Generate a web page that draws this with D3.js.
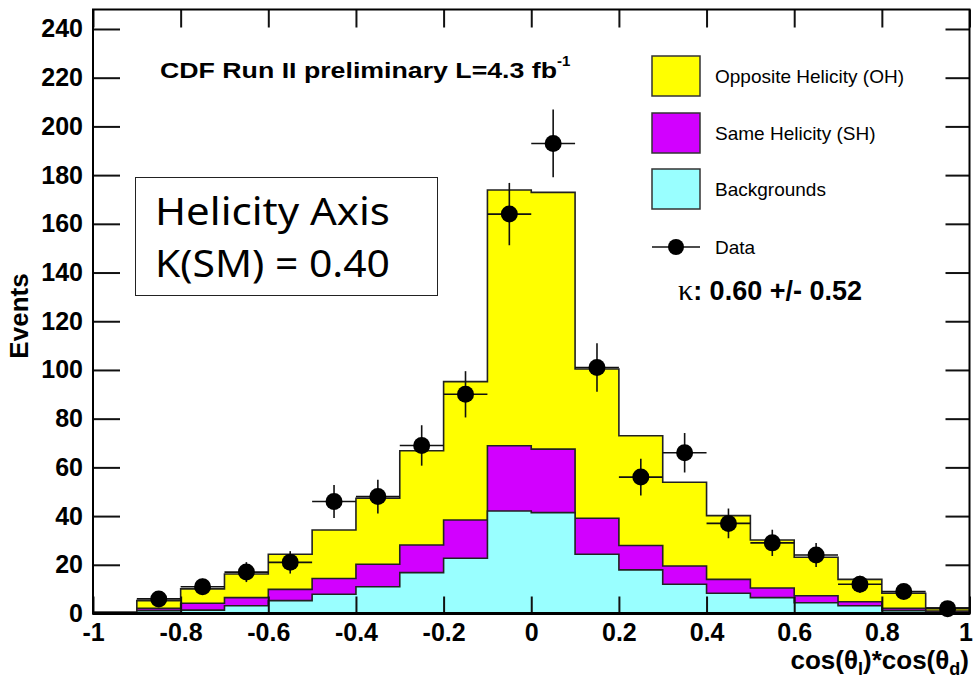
<!DOCTYPE html>
<html>
<head>
<meta charset="utf-8">
<script src="https://cdn.jsdelivr.net/npm/d3@7"></script>
<style>
  body { margin: 0; background: #fff; }
  svg { display: block; }
  .root { font-family: "Liberation Sans", Arial, Helvetica, sans-serif; }
</style>
</head>
<body>
<div id="chart"></div>
<script>
// bin lower edges, width 0.1
var binEdges = [-1, -0.9, -0.8, -0.7, -0.6, -0.5, -0.4, -0.3, -0.2, -0.1,
                0, 0.1, 0.2, 0.3, 0.4, 0.5, 0.6, 0.7, 0.8, 0.9];
var binWidth = 0.1;

// stacked components (events per bin)
var bgVals = [0.2, 1.2, 1.4, 3.2, 5.3, 7.9, 11.0, 16.8, 22.7, 42.1,
              41.4, 24.3, 17.9, 12.0, 8.3, 6.5, 4.4, 3.2, 1.2, 0.6];
var shVals = [0.1, 0.9, 2.8, 3.3, 4.6, 6.5, 9.2, 11.3, 15.7, 26.8,
              26.1, 14.8, 10.0, 7.5, 5.7, 4.0, 2.9, 1.6, 0.9, 0.4];
var ohVals = [0.3, 3.2, 5.9, 9.7, 14.4, 19.9, 27.1, 38.7, 56.8, 105.0,
              105.4, 61.3, 45.1, 34.4, 26.2, 19.7, 15.8, 9.2, 6.2, 1.3];

// data points and their errors
var dataVals = [null, 6, 11, 17, 21, 46, 48, 69, 90, 164,
                193, 101, 56, 66, 37, 29, 24, 12, 9, 2];
var dataErrs = [null, 2.4, 3.3, 4.1, 4.6, 6.8, 6.9, 8.3, 9.5, 12.8,
                13.9, 10.0, 7.5, 8.1, 6.1, 5.4, 4.9, 3.5, 3.0, 1.4];

var xTicks = [-1, -0.8, -0.6, -0.4, -0.2, 0, 0.2, 0.4, 0.6, 0.8, 1];
var xTickLabels = ["-1", "-0.8", "-0.6", "-0.4", "-0.2", "0", "0.2", "0.4", "0.6", "0.8", "1"];
var yTicks = [0, 20, 40, 60, 80, 100, 120, 140, 160, 180, 200, 220, 240];

var legendNames = ["Opposite Helicity (OH)", "Same Helicity (SH)", "Backgrounds", "Data"];
var colors = { oh: "#ffff00", sh: "#d200ff", bg: "#99ffff" };

var width = 973, height = 680;
var svg = d3.select("#chart").append("svg")
    .attr("width", width).attr("height", height)
    .attr("class", "root");

var x = d3.scaleLinear().domain([-1, 1]).range([93, 969.5]);
var y = d3.scaleLinear().domain([0, 248]).range([613.5, 9.5]);

// build stacked table
var table = binEdges.map(function(e, i) {
    return { x0: e, bg: bgVals[i], sh: shVals[i], oh: ohVals[i] };
});
var stack = d3.stack().keys(["bg", "sh", "oh"])(table);

function stepPoints(layer) {
    var pts = [];
    layer.forEach(function(d) {
        pts.push([d.data.x0, d[1]]);
        pts.push([d.data.x0 + binWidth, d[1]]);
    });
    return pts;
}

var area = d3.area()
    .x(function(p) { return x(p[0]); })
    .y0(y(0))
    .y1(function(p) { return y(p[1]); });

// draw totals first, then lower layers on top
[{ k: 2, c: colors.oh }, { k: 1, c: colors.sh }, { k: 0, c: colors.bg }].forEach(function(l) {
    svg.append("path")
        .attr("d", area(stepPoints(stack[l.k])))
        .attr("fill", l.c)
        .attr("stroke", "#222")
        .attr("stroke-width", 1.6);
});

// axes - ticks pointing inward
var yMinor = d3.range(0, 249, 4);
var xMinor = d3.range(-1, 1.001, 0.05);

var gl = svg.append("g").attr("transform", "translate(" + x(-1) + ",0)");
gl.call(d3.axisLeft(y).tickValues(yMinor).tickSize(-14).tickFormat(""));
gl.call(d3.axisLeft(y).tickValues(yTicks).tickSize(-27).tickPadding(10).tickFormat(d3.format("d")));

var gr = svg.append("g").attr("transform", "translate(" + x(1) + ",0)");
gr.call(d3.axisRight(y).tickValues(yMinor).tickSize(-12).tickFormat(""));
gr.call(d3.axisRight(y).tickValues(yTicks).tickSize(-24).tickFormat(""));

var gb = svg.append("g").attr("transform", "translate(0," + y(0) + ")");
gb.call(d3.axisBottom(x).tickValues(xMinor).tickSize(-8.5).tickFormat(""));
gb.call(d3.axisBottom(x).tickValues(xTicks).tickSize(-17).tickPadding(10)
    .tickFormat(function(d, i) { return xTickLabels[i]; }));
// last label sits at the page edge, nudge it inside
gb.selectAll(".tick text").filter(function(d) { return d === 1; }).attr("dx", -4);

var gt = svg.append("g").attr("transform", "translate(0," + y(248) + ")");
gt.call(d3.axisTop(x).tickValues(xMinor).tickSize(-9).tickFormat(""));
gt.call(d3.axisTop(x).tickValues(xTicks).tickSize(-18).tickFormat(""));

svg.selectAll(".domain").remove();
svg.selectAll(".tick line").attr("stroke", "#111").attr("stroke-width", 2);
svg.selectAll(".tick text")
    .attr("font-family", '"Liberation Sans", Arial, sans-serif')
    .attr("font-weight", "bold")
    .attr("font-size", 25)
    .attr("fill", "#000");

// frame
svg.append("rect")
    .attr("x", x(-1)).attr("y", y(248))
    .attr("width", x(1) - x(-1)).attr("height", y(0) - y(248))
    .attr("fill", "none").attr("stroke", "#000").attr("stroke-width", 2);
svg.append("line")
    .attr("x1", x(-1)).attr("x2", x(1)).attr("y1", y(0)).attr("y2", y(0))
    .attr("stroke", "#000").attr("stroke-width", 3);

// data points with error bars
var pts = binEdges.map(function(e, i) {
    return { xc: e + binWidth / 2, v: dataVals[i], err: dataErrs[i] };
}).filter(function(d) { return d.v !== null; });

var gp = svg.append("g");
var pg = gp.selectAll("g").data(pts).enter().append("g");
pg.append("line")
    .attr("x1", function(d) { return x(d.xc - binWidth / 2); })
    .attr("x2", function(d) { return x(d.xc + binWidth / 2); })
    .attr("y1", function(d) { return y(d.v); })
    .attr("y2", function(d) { return y(d.v); })
    .attr("stroke", "#111").attr("stroke-width", 1.6);
pg.append("line")
    .attr("x1", function(d) { return x(d.xc); })
    .attr("x2", function(d) { return x(d.xc); })
    .attr("y1", function(d) { return y(Math.max(0, d.v - d.err)); })
    .attr("y2", function(d) { return y(d.v + d.err); })
    .attr("stroke", "#111").attr("stroke-width", 1.6);
pg.append("circle")
    .attr("cx", function(d) { return x(d.xc); })
    .attr("cy", function(d) { return y(d.v); })
    .attr("r", 8.5)
    .attr("fill", "#000");

// axis titles
svg.append("text")
    .attr("transform", "translate(28,316) rotate(-90)")
    .attr("text-anchor", "middle")
    .attr("font-weight", "bold").attr("font-size", 26)
    .text("Events");

var xt = svg.append("text")
    .attr("x", 969).attr("y", 669)
    .attr("text-anchor", "end")
    .attr("font-weight", "bold").attr("font-size", 26);
xt.append("tspan").text("cos(\u03b8");
xt.append("tspan").attr("font-size", 18).attr("dy", 6).text("l");
xt.append("tspan").attr("dy", -6).text(")*cos(\u03b8");
xt.append("tspan").attr("font-size", 18).attr("dy", 6).text("d");
xt.append("tspan").attr("dy", -6).text(")");

// title
var tt = svg.append("text")
    .attr("x", 160).attr("y", 78)
    .attr("font-weight", "bold").attr("font-size", 22);
tt.append("tspan").attr("textLength", 397).attr("lengthAdjust", "spacingAndGlyphs")
    .text("CDF Run II preliminary L=4.3 fb");
tt.append("tspan").attr("font-size", 15).attr("dy", -12).text("-1");

// helicity box
svg.append("rect")
    .attr("x", 135.5).attr("y", 177.5).attr("width", 302).attr("height", 118)
    .attr("fill", "#fff").attr("stroke", "#222").attr("stroke-width", 1);
svg.append("text")
    .attr("x", 155).attr("y", 225)
    .attr("font-family", '"Noto Sans", "DejaVu Sans", sans-serif')
    .attr("font-size", 39)
    .attr("textLength", 235).attr("lengthAdjust", "spacingAndGlyphs")
    .text("Helicity Axis");
svg.append("text")
    .attr("x", 155).attr("y", 277)
    .attr("font-family", '"Noto Sans", "DejaVu Sans", sans-serif')
    .attr("font-size", 39)
    .attr("textLength", 235).attr("lengthAdjust", "spacingAndGlyphs")
    .text("K(SM) = 0.40");

// legend
var legY = [76, 133, 189, 247];
var legFill = [colors.oh, colors.sh, colors.bg];
var lg = svg.append("g");
legFill.forEach(function(c, i) {
    lg.append("rect")
        .attr("x", 652).attr("y", legY[i] - 20)
        .attr("width", 48).attr("height", 40)
        .attr("fill", c).attr("stroke", "#333").attr("stroke-width", 1.5);
});
lg.append("line")
    .attr("x1", 652).attr("x2", 700).attr("y1", legY[3]).attr("y2", legY[3])
    .attr("stroke", "#111").attr("stroke-width", 1.6);
lg.append("circle").attr("cx", 676).attr("cy", legY[3]).attr("r", 8).attr("fill", "#000");
legendNames.forEach(function(n, i) {
    lg.append("text")
        .attr("x", 715).attr("y", legY[i] + 7)
        .attr("font-size", 19)
        .text(n);
});

// kappa fit result
var kt = svg.append("text").attr("x", 678).attr("y", 300).attr("font-size", 27);
kt.append("tspan").attr("font-family", '"Liberation Serif", "Times New Roman", serif')
    .attr("font-size", 30).text("\u03ba");
kt.append("tspan").attr("font-weight", "bold").text(": 0.60 +/- 0.52");
</script>
</body>
</html>
